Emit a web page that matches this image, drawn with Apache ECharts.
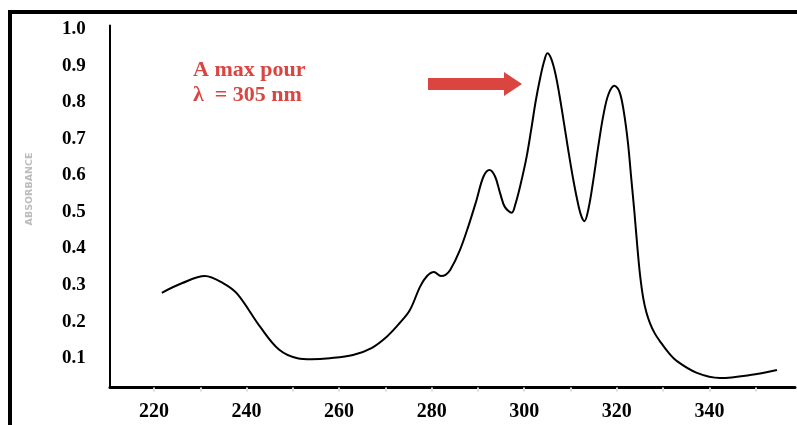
<!DOCTYPE html>
<html>
<head>
<meta charset="utf-8">
<script src="https://cdn.jsdelivr.net/npm/echarts@6/dist/echarts.min.js"></script>
<style>
  html, body { margin: 0; padding: 0; background: #ffffff; }
  #chart { width: 797px; height: 425px; }
</style>
</head>
<body>
<div id="chart"></div>
<script>
// UV absorption spectrum: wavelength (nm) and absorbance
const wavelength = [
  221.7, 226, 231, 235, 238, 243, 247, 251, 254, 258, 263, 267, 270.3, 273, 275.3,
  277.5, 279, 280.5, 282, 283, 284, 286.1, 287.9, 289.7, 291.2, 292.5, 293.7, 294.8, 295.8,
  297.3, 298.1, 299.2, 300.5, 301.5, 302.5, 303.5, 304.3, 305, 305.8, 306.7, 307.6, 308.5,
  309.5, 310.5, 311.5, 312.3, 313.0, 313.9, 314.9, 316.0, 317.1, 318.2, 319.5, 320.6, 321.5,
  322.4, 323.1, 323.8, 324.4, 325.0, 325.7, 326.4, 327.2, 328.2, 329.3, 331.0, 333.0, 337.3,
  342.3, 348.8, 354.6
];
const absorbance = [
  0.279, 0.305, 0.325, 0.305, 0.276, 0.185, 0.124, 0.100, 0.097, 0.100, 0.109, 0.128, 0.159, 0.195, 0.232,
  0.296, 0.325, 0.336, 0.325, 0.328, 0.341, 0.396, 0.460, 0.533, 0.597, 0.615, 0.597, 0.551, 0.514,
  0.498, 0.522, 0.575, 0.650, 0.725, 0.805, 0.870, 0.912, 0.934, 0.920, 0.880, 0.820, 0.750,
  0.670, 0.595, 0.530, 0.490, 0.475, 0.510, 0.585, 0.680, 0.765, 0.822, 0.845, 0.828, 0.775,
  0.690, 0.595, 0.500, 0.410, 0.330, 0.265, 0.225, 0.195, 0.168, 0.147, 0.118, 0.092, 0.060,
  0.046, 0.054, 0.068
];

const xTickLabels = [220, 240, 260, 280, 300, 320, 340];
const xMinorTicks = [220, 230, 240, 250, 260, 270, 280, 290, 300, 310, 320, 330, 340, 350];
const yTickLabels = [0.1, 0.2, 0.3, 0.4, 0.5, 0.6, 0.7, 0.8, 0.9, 1.0];

const annotationLines = ['A max pour', 'λ  = 305 nm'];

const serif = '"Liberation Serif", "Times New Roman", serif';
const red = '#da4540';

const chart = echarts.init(document.getElementById('chart'), null, { renderer: 'canvas' });

chart.setOption({
  backgroundColor: '#ffffff',
  animation: false,
  grid: { left: 110, right: 2, top: 25.5, bottom: 37.5, containLabel: false },
  xAxis: {
    type: 'value',
    min: 210.5,
    max: 358.5,
    axisLine: { show: true, lineStyle: { color: '#000', width: 3 } },
    axisTick: {
      show: true,
      customValues: xMinorTicks,
      inside: false,
      length: 4,
      lineStyle: { color: '#dcdcdc', width: 2 }
    },
    axisLabel: {
      customValues: xTickLabels,
      margin: 14,
      color: '#000',
      fontFamily: serif,
      fontWeight: 'bold',
      fontSize: 20,
      formatter: v => String(v)
    },
    splitLine: { show: false }
  },
  yAxis: {
    type: 'value',
    min: 0.02,
    max: 1.01,
    axisLine: { show: true, lineStyle: { color: '#000', width: 2 } },
    axisTick: { show: false },
    axisLabel: {
      customValues: yTickLabels,
      align: 'left',
      margin: 48,
      color: '#000',
      fontFamily: serif,
      fontWeight: 'bold',
      fontSize: 19,
      formatter: v => v.toFixed(1)
    },
    splitLine: { show: false }
  },
  series: [{
    type: 'line',
    data: wavelength.map((w, i) => [w, absorbance[i]]),
    smooth: 0.35,
    showSymbol: false,
    lineStyle: { color: '#000', width: 2 }
  }],
  graphic: [
    // outer frame (top and left edges visible)
    { type: 'rect', shape: { x: 10, y: 12, width: 820, height: 440 },
      style: { fill: 'none', stroke: '#000', lineWidth: 4 }, z: 10 },
    // rotated axis title
    { type: 'text', x: 30, y: 189, rotation: Math.PI / 2,
      style: { text: 'ABSORBANCE', align: 'center', verticalAlign: 'middle',
               font: 'bold 9.5px "DejaVu Sans", sans-serif', fill: '#bcbcbc' } },
    // annotation text
    { type: 'text', x: 193, y: 70,
      style: { text: annotationLines[0], align: 'left', verticalAlign: 'middle',
               font: 'bold 22px ' + serif, fill: red } },
    { type: 'text', x: 193, y: 95,
      style: { text: annotationLines[1], align: 'left', verticalAlign: 'middle',
               font: 'bold 22px ' + serif, fill: red } },
    // annotation arrow
    { type: 'polygon',
      shape: { points: [[428, 78], [504, 78], [504, 72], [522, 84], [504, 96], [504, 90], [428, 90]] },
      style: { fill: red } }
  ]
});
</script>
</body>
</html>
